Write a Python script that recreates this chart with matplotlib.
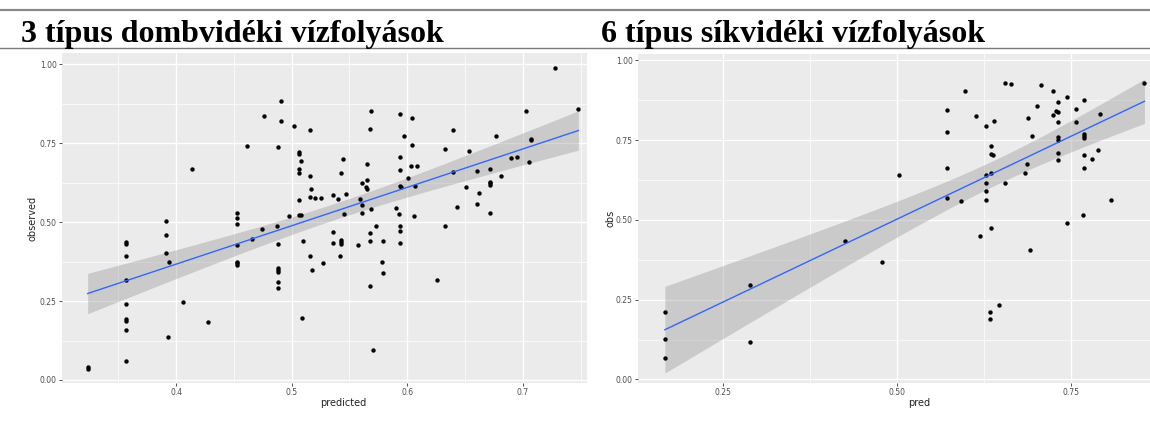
import numpy as np
import matplotlib
matplotlib.use("Agg")
import matplotlib.pyplot as plt
from matplotlib.lines import Line2D

# 3 típus - predicted vs observed
pred3 = [0.3235, 0.3235, 0.357, 0.357, 0.357, 0.357, 0.357, 0.357, 0.357, 0.357, 0.357,
         0.391, 0.391, 0.391, 0.394, 0.393, 0.406, 0.414, 0.428,
         0.453, 0.453, 0.453, 0.453, 0.453, 0.453, 0.453, 0.461, 0.466, 0.474, 0.476,
         0.487, 0.488, 0.488, 0.488, 0.488, 0.488, 0.488, 0.488, 0.491, 0.491, 0.498,
         0.502, 0.506, 0.506, 0.506, 0.506, 0.506, 0.506, 0.508, 0.508, 0.510, 0.509,
         0.516, 0.516, 0.516, 0.517, 0.516, 0.518, 0.520, 0.525, 0.527,
         0.536, 0.536, 0.536, 0.540, 0.543, 0.543, 0.543, 0.543, 0.542, 0.544, 0.545, 0.547,
         0.557, 0.559, 0.561, 0.561, 0.561, 0.564, 0.565, 0.565, 0.565,
         0.568, 0.568, 0.568, 0.568, 0.569, 0.569, 0.570, 0.573, 0.579, 0.578, 0.579,
         0.590, 0.593, 0.594, 0.594, 0.594, 0.595, 0.594, 0.594, 0.594, 0.594, 0.597,
         0.601, 0.603, 0.604, 0.604, 0.606, 0.607, 0.608, 0.626, 0.633, 0.633,
         0.640, 0.640, 0.643, 0.651, 0.653, 0.660, 0.660, 0.662,
         0.672, 0.672, 0.672, 0.672, 0.672, 0.677, 0.681, 0.690, 0.695,
         0.703, 0.705, 0.707, 0.707, 0.728, 0.748]
obs3 = [0.041, 0.036, 0.436, 0.431, 0.392, 0.317, 0.241, 0.192, 0.188, 0.159, 0.060,
        0.503, 0.460, 0.402, 0.372, 0.135, 0.247, 0.668, 0.183,
        0.528, 0.514, 0.495, 0.426, 0.374, 0.369, 0.364, 0.741, 0.446, 0.478, 0.835,
        0.486, 0.430, 0.354, 0.348, 0.343, 0.311, 0.290, 0.738, 0.883, 0.821, 0.519,
        0.805, 0.722, 0.714, 0.668, 0.654, 0.571, 0.523, 0.521, 0.693, 0.441, 0.195,
        0.790, 0.646, 0.579, 0.603, 0.393, 0.348, 0.577, 0.577, 0.370,
        0.585, 0.467, 0.435, 0.573, 0.654, 0.443, 0.438, 0.432, 0.392, 0.698, 0.525, 0.588,
        0.426, 0.573, 0.624, 0.555, 0.529, 0.611, 0.685, 0.633, 0.604,
        0.794, 0.465, 0.441, 0.298, 0.542, 0.850, 0.094, 0.488, 0.441, 0.373, 0.340,
        0.544, 0.525, 0.706, 0.666, 0.614, 0.611, 0.488, 0.473, 0.433, 0.842, 0.772,
        0.639, 0.676, 0.830, 0.745, 0.519, 0.614, 0.678, 0.317, 0.730, 0.486,
        0.792, 0.659, 0.548, 0.612, 0.726, 0.661, 0.557, 0.592,
        0.668, 0.628, 0.623, 0.617, 0.529, 0.773, 0.646, 0.704, 0.706,
        0.850, 0.691, 0.762, 0.759, 0.986, 0.857]

# 6 típus - pred vs obs
pred6 = [0.654, 0.663, 0.707, 0.855, 0.597, 0.723, 0.744, 0.731, 0.768,
         0.572, 0.700, 0.756, 0.728, 0.731, 0.724, 0.791, 0.613, 0.688, 0.639,
         0.731, 0.756, 0.627, 0.572, 0.768, 0.768, 0.768, 0.694, 0.731, 0.731,
         0.635, 0.788, 0.635, 0.638, 0.731, 0.768, 0.779, 0.731, 0.687, 0.572, 0.768,
         0.503, 0.627, 0.635, 0.683, 0.627, 0.654, 0.627, 0.572, 0.591, 0.627, 0.807,
         0.767, 0.744, 0.635, 0.619, 0.425, 0.691, 0.478, 0.289,
         0.646, 0.633, 0.633, 0.166, 0.166, 0.166, 0.289]
obs6 = [0.929, 0.925, 0.923, 0.929, 0.903, 0.903, 0.884, 0.871, 0.876,
        0.843, 0.856, 0.848, 0.840, 0.837, 0.829, 0.832, 0.827, 0.818, 0.810,
        0.806, 0.806, 0.794, 0.777, 0.769, 0.764, 0.757, 0.762, 0.760, 0.751,
        0.732, 0.718, 0.707, 0.702, 0.711, 0.702, 0.692, 0.688, 0.674, 0.663, 0.664,
        0.642, 0.642, 0.647, 0.647, 0.617, 0.617, 0.591, 0.568, 0.558, 0.562, 0.564,
        0.515, 0.491, 0.476, 0.451, 0.434, 0.407, 0.369, 0.296,
        0.233, 0.212, 0.188, 0.212, 0.126, 0.067, 0.117]

W, H = 1150, 430
BG = '#EBEBEB'
TXT = '#4D4D4D'


def lm_band(x, y, n_pts=80):
    x = np.asarray(x)
    y = np.asarray(y)
    n = len(x)
    b, a = np.polyfit(x, y, 1)
    res = y - (a + b * x)
    s = np.sqrt(np.sum(res ** 2) / (n - 2))
    xs = np.linspace(x.min(), x.max(), n_pts)
    se = s * np.sqrt(1.0 / n + (xs - x.mean()) ** 2 / np.sum((x - x.mean()) ** 2))
    # t quantile (0.975) via Cornish-Fisher expansion
    z, df = 1.959964, n - 2
    t = z + (z ** 3 + z) / (4 * df) + (5 * z ** 5 + 16 * z ** 3 + 3 * z) / (96 * df ** 2)
    fit = a + b * xs
    return xs, fit, fit - t * se, fit + t * se


def gg_panel(ax, x, y, xlim, ylim, xticks, xminor, yticks, yminor, xfmt):
    ax.set_facecolor(BG)
    for sp in ax.spines.values():
        sp.set_visible(False)
    ax.set_xlim(xlim)
    ax.set_ylim(ylim)
    for v in xminor:
        ax.axvline(v, color='white', lw=0.5, zorder=0)
    for v in yminor:
        ax.axhline(v, color='white', lw=0.5, zorder=0)
    for v in xticks:
        ax.axvline(v, color='white', lw=1.0, zorder=0)
    for v in yticks:
        ax.axhline(v, color='white', lw=1.0, zorder=0)
    xs, fit, lo, hi = lm_band(x, y)
    ax.fill_between(xs, lo, hi, color='#999999', alpha=0.4, lw=0, zorder=1)
    ax.scatter(x, y, s=10, color='black', lw=0, zorder=2)
    ax.plot(xs, fit, color='#3366FF', lw=1.0, zorder=3)
    ax.set_xticks(xticks)
    ax.set_xticklabels([xfmt % v for v in xticks])
    ax.set_yticks(yticks)
    ax.set_yticklabels(['%.2f' % v for v in yticks])
    ax.tick_params(length=2.2, width=0.6, color='#333333', labelsize=5.5,
                   labelcolor=TXT, pad=1.5)


fig = plt.figure(figsize=(W / 100, H / 100), dpi=100)

ax1 = fig.add_axes([62 / W, 1 - 383 / H, (587 - 62) / W, (383 - 53) / H])
gg_panel(ax1, pred3, obs3, (0.3013, 0.7555), (-0.0095, 1.035),
         [0.4, 0.5, 0.6, 0.7], [0.35, 0.45, 0.55, 0.65, 0.75],
         [0.0, 0.25, 0.5, 0.75, 1.0], [0.125, 0.375, 0.625, 0.875], '%.1f')

ax2 = fig.add_axes([638 / W, 1 - 383 / H, (1150 - 638) / W, (383 - 54) / H])
gg_panel(ax2, pred6, obs6, (0.1274, 0.863), (-0.011, 1.02),
         [0.25, 0.5, 0.75], [0.375, 0.625],
         [0.0, 0.25, 0.5, 0.75, 1.0], [0.125, 0.375, 0.625, 0.875], '%.2f')

# axis titles
fig.text(343 / W, 1 - 403 / H, 'predicted', ha='center', va='center', fontsize=7, color='#222222')
fig.text(33 / W, 1 - 218 / H, 'observed', ha='center', va='center', rotation=90, fontsize=7, color='#222222')
fig.text(919 / W, 1 - 403 / H, 'pred', ha='center', va='center', fontsize=7, color='#222222')
fig.text(611 / W, 1 - 218 / H, 'obs', ha='center', va='center', rotation=90, fontsize=7, color='#222222')

# header lines and headings
fig.add_artist(Line2D([0, 1], [1 - 10 / H, 1 - 10 / H], color='#8A8A8A', lw=1.6))
fig.add_artist(Line2D([0, 1], [1 - 47.5 / H, 1 - 47.5 / H], color='#7A7A7A', lw=1.0))
fig.text(21 / W, 1 - 42 / H, '3 típus dombvidéki vízfolyások', fontsize=23, fontweight='bold',
         family='Liberation Serif', va='baseline', ha='left')
fig.text(601 / W, 1 - 42 / H, '6 típus síkvidéki vízfolyások', fontsize=23, fontweight='bold',
         family='Liberation Serif', va='baseline', ha='left')

fig.savefig('out.png', dpi=100)
